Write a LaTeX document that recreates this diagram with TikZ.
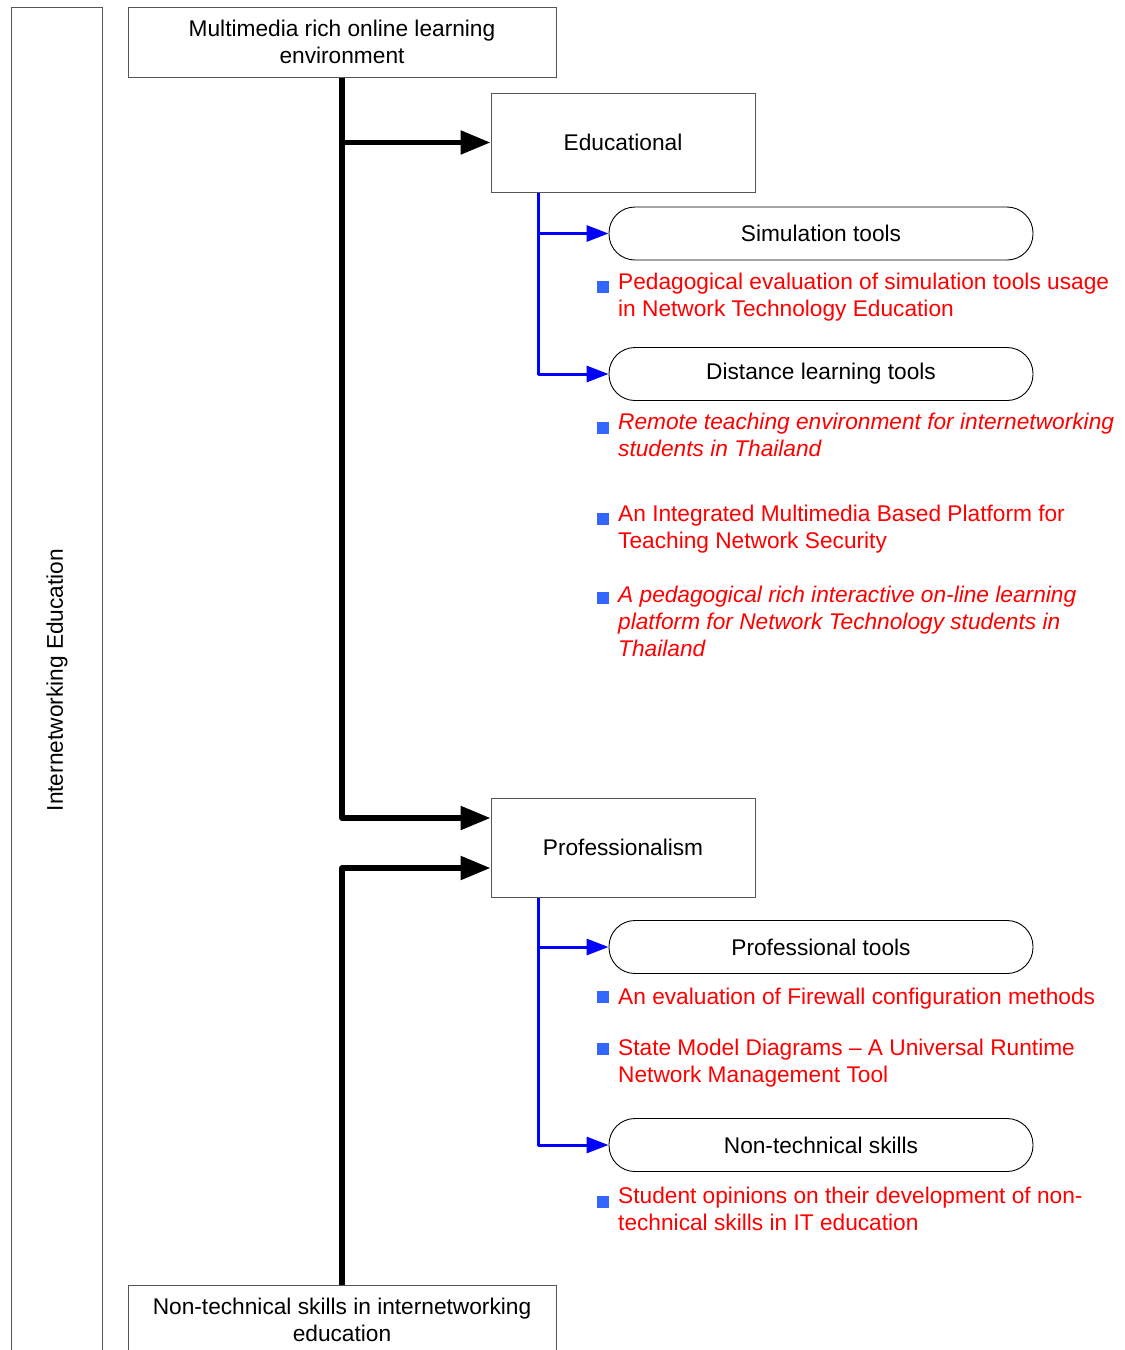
\documentclass[tikz,border=0pt]{standalone}
\usepackage{fontspec}
\setmainfont{Liberation Sans}
\usetikzlibrary{arrows.meta,calc}
\definecolor{bulletblue}{HTML}{3366FF}
\definecolor{boxgray}{HTML}{555555}
\begin{document}
\begin{tikzpicture}[x=1pt,y=-1pt,
  every node/.style={font=\fontsize{22.7}{27}\selectfont},
  sqbox/.style={draw=boxgray,line width=1pt,minimum width=264pt,minimum height=99pt,inner sep=0pt},
  widebox/.style={draw=boxgray,line width=1pt,minimum width=428pt,minimum height=70pt,inner sep=0pt,align=center},
  sidebox/.style={draw=boxgray,line width=1pt,minimum width=91pt,minimum height=1352pt,inner sep=0pt},
  pill/.style={draw=black,line width=0.9pt,rounded corners=26pt,minimum width=424pt,minimum height=53pt,inner sep=0pt},
  item/.style={anchor=north west,inner sep=0pt,align=left,text=red},
  itemit/.style={item,font=\fontsize{22.7}{27}\selectfont\itshape},
  bullet/.style={fill=bulletblue,minimum size=12pt,inner sep=0pt},
  trunk/.style={line width=5.5pt,line join=round,-{Triangle[length=30pt,width=23pt]}},
  twig/.style={blue,line width=3pt,line join=round,-{Triangle[length=22pt,width=16pt]}}
]
\clip (0,0) rectangle (1125,1350);
\fill[white] (0,0) rectangle (1125,1350);

% side box
\node[sidebox] (side) at (56.5,683) {};
\node[rotate=90] (sidelabel) at (57,680) {Internetworking Education};

% main boxes
\node[widebox] (top) at (342,42) {Multimedia rich online learning\\environment};
\node[widebox] (bot) at (342,1320) {Non-technical skills in internetworking\\education};
\node[sqbox] (edu) at (623,142.5) {Educational};
\node[sqbox] (prof) at (623,847.5) {Professionalism};

% pills
\node[pill] (sim) at (821,233.5) {Simulation tools};
\node[pill] (dist) at (821,374) {Distance learning tools};
\node[pill] (ptools) at (821,947) {Professional tools};
\node[pill] (ntech) at (821,1145) {Non-technical skills};

% black connectors
\coordinate (k1) at (342,818);
\coordinate (k2) at (342,868);
\draw[trunk] (top.south) -- (k1) -- (k1 -| prof.west);
\draw[trunk] (top.south |- edu.west) -- (edu.west);
\draw[trunk] (bot.north) -- (k2) -- (k2 -| prof.west);

% blue connectors
\coordinate (e0) at ($(edu.south west)+(48,0)$);
\coordinate (p0) at ($(prof.south west)+(48,0)$);
\draw[twig] (e0) |- (sim.west);
\draw[twig] (e0) |- (dist.west);
\draw[twig] (p0) |- (ptools.west);
\draw[twig] (p0) |- (ntech.west);

% bullets
\node[bullet] (b1) at (603,287) {};
\node[bullet] (b2) at (603,428) {};
\node[bullet] (b3) at (603,519) {};
\node[bullet] (b4) at (603,598) {};
\node[bullet] (b5) at (603,997) {};
\node[bullet] (b6) at (603,1049) {};
\node[bullet] (b7) at (603,1202) {};

% red items
\node[item] (t1) at (618,270) {\strut Pedagogical evaluation of simulation tools usage\\in Network Technology Education};
\node[itemit] (t2) at (618,410) {\strut Remote teaching environment for internetworking\\students in Thailand};
\node[item] (t3) at (618,502) {\strut An Integrated Multimedia Based Platform for\\Teaching Network Security};
\node[itemit] (t4) at (618,583) {\strut A pedagogical rich interactive on-line learning\\platform for Network Technology students in\\Thailand};
\node[item] (t5) at (618,985) {\strut An evaluation of Firewall configuration methods};
\node[item] (t6) at (618,1036) {\strut State Model Diagrams – A Universal Runtime\\Network Management Tool};
\node[item] (t7) at (618,1184) {\strut Student opinions on their development of non-\\technical skills in IT education};
\end{tikzpicture}
\end{document}
